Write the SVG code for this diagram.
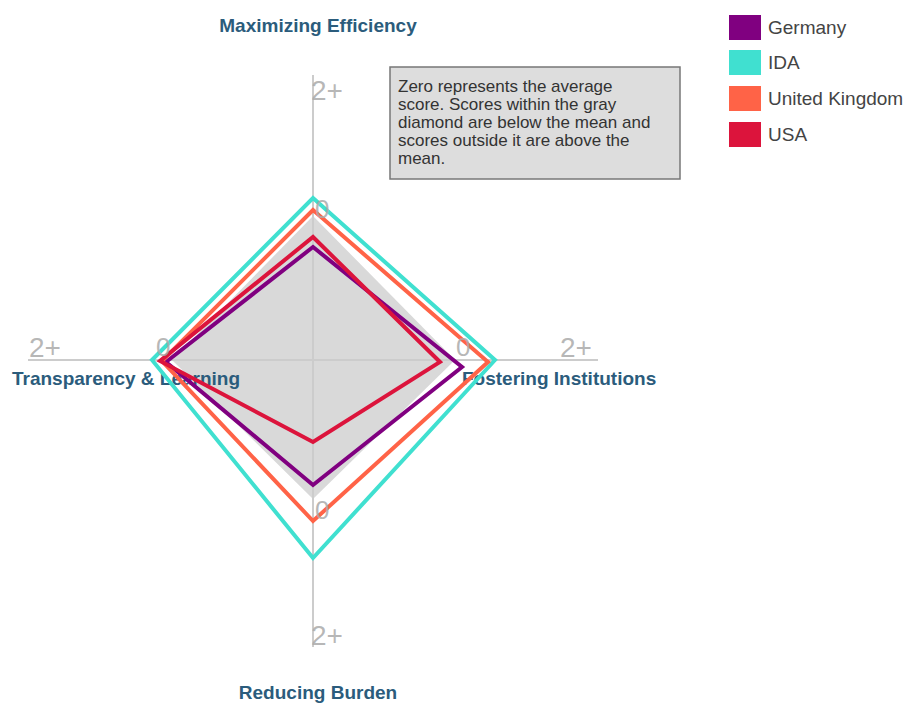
<svg xmlns="http://www.w3.org/2000/svg" width="909" height="704" viewBox="0 0 909 704">
<style>
.axis{stroke:#cccccc;stroke-width:2;fill:none}
.tick{font-family:"Liberation Sans",Arial,sans-serif;font-size:28px;fill:#aaaaaa;fill-opacity:0.85}
.zero{font-family:"Liberation Sans",Arial,sans-serif;font-size:26px;fill:#aaaaaa;fill-opacity:0.85}
.alabel{font-family:"Liberation Sans",Arial,sans-serif;font-size:19px;font-weight:bold;fill:#2b5c7c}
.series{fill:none;stroke-width:4;stroke-linejoin:miter}
.note{font-family:"Liberation Sans",Arial,sans-serif;font-size:17px;fill:#333333}
.leg{font-family:"Liberation Sans",Arial,sans-serif;font-size:19px;fill:#444444}
</style>
<rect width="909" height="704" fill="#ffffff"/>
<g id="mean-diamond">
<polygon points="313,216 455,360 313,499 172,360" fill="#d9d9d9"/>
</g>
<g id="axes">
<line class="axis" x1="313" y1="75" x2="313" y2="647"/>
<line class="axis" x1="28" y1="360" x2="598" y2="360"/>
<text class="tick" x="311" y="100">2+</text>
<text class="tick" x="560" y="357">2+</text>
<text class="tick" x="311" y="645">2+</text>
<text class="tick" x="29" y="357">2+</text>
</g>
<g id="axis-labels">
<text class="alabel" x="318" y="32" text-anchor="middle">Maximizing Efficiency</text>
<text class="alabel" x="12" y="385">Transparency &amp; Learning</text>
<text class="alabel" x="462" y="385">Fostering Institutions</text>
<text class="alabel" x="318" y="699" text-anchor="middle">Reducing Burden</text>
</g>
<g id="connectors">
<polygon id="germany" class="series" stroke="#800080" points="313,247 462,367 313,485 166,362"/>
<polygon id="ida" class="series" stroke="#40e0d0" points="313,198 495,360 313,558 152,360"/>
<polygon id="uk" class="series" stroke="#ff6347" points="313,210 488,362 313,521 162,361"/>
<polygon id="usa" class="series" stroke="#dc143c" points="313,237 440,362 313,442 160,361"/>
</g>
<g id="zero-labels">
<text class="zero" x="315" y="218">0</text>
<text class="zero" x="156" y="356">0</text>
<text class="zero" x="456" y="356">0</text>
<text class="zero" x="315" y="519">0</text>
</g>
<g id="note">
<rect x="390" y="67" width="290" height="112" fill="#dddddd" stroke="#777777" stroke-width="1.5"/>
<text class="note" x="398" y="92">Zero represents the average</text>
<text class="note" x="398" y="110">score. Scores within the gray</text>
<text class="note" x="398" y="128">diamond are below the mean and</text>
<text class="note" x="398" y="146">scores outside it are above the</text>
<text class="note" x="398" y="164">mean.</text>
</g>
<g id="legend">
<g id="leg-germany"><rect x="729" y="15" width="32" height="25" fill="#800080"/><text class="leg" x="768" y="34">Germany</text></g>
<g id="leg-ida"><rect x="729" y="50" width="32" height="25" fill="#40e0d0"/><text class="leg" x="768" y="69">IDA</text></g>
<g id="leg-uk"><rect x="729" y="86" width="32" height="25" fill="#ff6347"/><text class="leg" x="768" y="105">United Kingdom</text></g>
<g id="leg-usa"><rect x="729" y="122" width="32" height="25" fill="#dc143c"/><text class="leg" x="768" y="141">USA</text></g>
</g>
</svg>
